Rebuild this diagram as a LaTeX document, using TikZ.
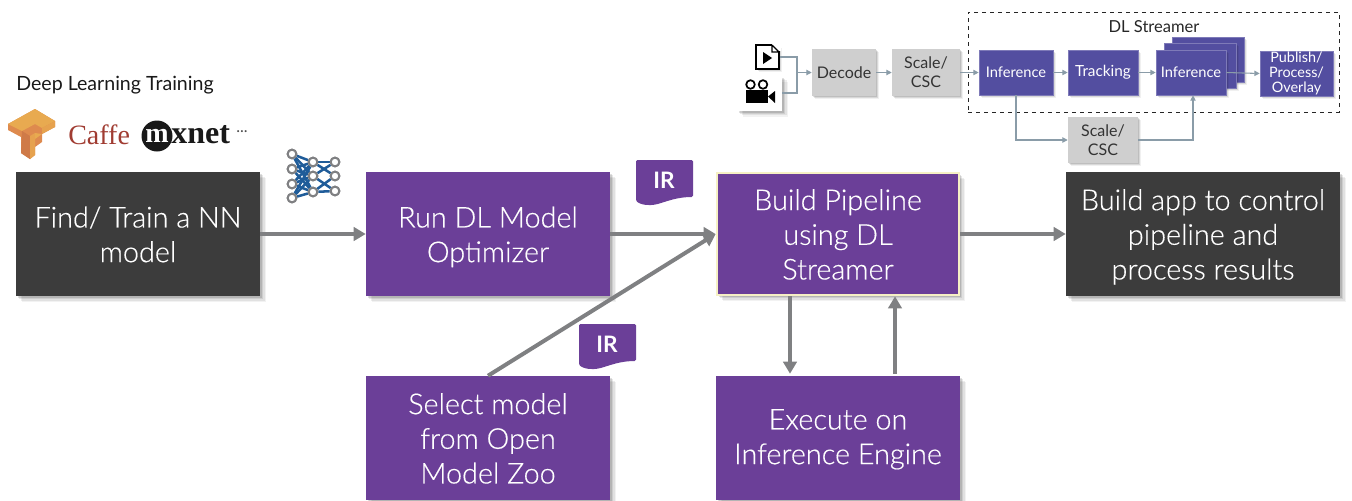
\documentclass[tikz,border=0pt]{standalone}
\usepackage{fontspec}
\setmainfont{Lato}
\newfontfamily\lightfont{Lato Light}[FakeBold=0.4]
\newfontfamily\serifcaffe{Liberation Serif}
\usetikzlibrary{shadows,arrows.meta,calc}
\newcommand{\boxtop}{\rule{0pt}{24pt}}
\newcommand{\boxbot}{\rule[-7.8pt]{0pt}{7.8pt}}
\definecolor{purpleA}{HTML}{6B3F98}
\definecolor{darkA}{HTML}{3C3C3C}
\definecolor{blueA}{HTML}{534EA0}
\definecolor{greyA}{HTML}{CFCFCF}
\definecolor{lineA}{HTML}{7F8082}
\definecolor{lineB}{HTML}{8A9CA8}
\definecolor{glow}{HTML}{F6F0C4}
\definecolor{nnblue}{HTML}{1F5C99}
\definecolor{tfA}{HTML}{E8AA50}
\definecolor{tfB}{HTML}{DE8A4E}
\definecolor{tfC}{HTML}{CF7A48}
\definecolor{tfD}{HTML}{E6A24E}
\tikzset{
  softshadow/.style={general shadow={fill=black,opacity=.05,shadow xshift=4.5pt,shadow yshift=-4.5pt},
                     general shadow={fill=black,opacity=.07,shadow xshift=3.5pt,shadow yshift=-3.5pt},
                     general shadow={fill=black,opacity=.09,shadow xshift=2.5pt,shadow yshift=-2.5pt},
                     general shadow={fill=black,opacity=.12,shadow xshift=1.5pt,shadow yshift=-1.5pt}},
  smallshadow/.style={general shadow={fill=black,opacity=.06,shadow xshift=2.2pt,shadow yshift=-2.2pt},
                     general shadow={fill=black,opacity=.10,shadow xshift=1.5pt,shadow yshift=-1.5pt},
                     general shadow={fill=black,opacity=.12,shadow xshift=.8pt,shadow yshift=-.8pt}},
  bigbox/.style={minimum width=244*.75pt,minimum height=124*.75pt,inner sep=0pt,align=center,text=white,font=\lightfont\fontsize{21.6}{26}\selectfont,softshadow},
  purplebox/.style={bigbox,fill=purpleA},
  darkbox/.style={bigbox,fill=darkA},
  greybox/.style={fill=greyA,inner sep=0pt,align=center,text=black!80,font=\fontsize{12}{14.4}\selectfont,smallshadow},
  bluebox/.style={fill=blueA,draw=blueA!75!white,line width=.5pt,inner sep=0pt,align=center,text=white,font=\fontsize{11}{13}\selectfont,smallshadow},
  mainarrow/.style={draw=lineA,line width=3pt,-{Triangle[length=9pt,width=10pt]}},
  thinarrow/.style={draw=lineB,line width=.8pt,-{Triangle[length=4pt,width=4pt]}},
  thinline/.style={draw=lineB,line width=.8pt},
  irflag/.style={fill=purpleA,rounded corners=1pt},
  irtext/.style={text=white,font=\fontsize{17}{20}\selectfont\bfseries},
  nnnode/.style={circle,draw=lineA,fill=white,line width=1.5pt,minimum size=6.5pt,inner sep=0pt},
  nnedge/.style={draw=nnblue,line width=1.9pt}
}
\begin{document}
\begin{tikzpicture}[x=.75pt,y=-.75pt]
\useasboundingbox (0,0) rectangle (1352,500);
% main boxes
\node[darkbox] (find) at (138,234) {\boxtop Find/ Train a NN\\model\boxbot};
\node[purplebox] (run) at (488,234) {\boxtop Run DL Model\\Optimizer\boxbot};
\node[purplebox,draw=glow,line width=2pt,minimum width=242*.75pt,minimum height=122*.75pt] (build) at (838,234) {\boxtop Build Pipeline\\using DL\\Streamer\boxbot};
\node[darkbox,minimum width=274*.75pt] (app) at (1203,234) {\boxtop Build app to control\\pipeline and\\process results\boxbot};
\node[purplebox] (select) at (488,438) {\boxtop Select model\\from Open\\Model Zoo\boxbot};
\node[purplebox] (exec) at (838,438) {\boxtop Execute on\\Inference Engine\rule[-10.8pt]{0pt}{10.8pt}};
% main connectors
\coordinate (dnx) at (790,0);
\coordinate (upx) at (895,0);
\draw[mainarrow] (find.east) -- (run.west);
\draw[mainarrow] (run.east) -- (build.west);
\draw[mainarrow] (select.north) -- (build.west);
\draw[mainarrow] (build.south -| dnx) -- ($(exec.north -| dnx)+(0,-2)$);
\draw[mainarrow] ($(exec.north -| upx)+(0,-2)$) -- (build.south -| upx);
\draw[mainarrow] (build.east) -- (app.west);
% IR flags
\path[irflag] (636,160) -- (693,160) -- (693,197)
  .. controls (672,197) and (660,205) .. (650,205) .. controls (644,205) and (640,204) .. (636,201) -- cycle;
\node[irtext] (ir1) at (664,180) {IR};
\path[irflag] (579,324) -- (636,324) -- (636,361)
  .. controls (615,361) and (603,369) .. (593,369) .. controls (587,369) and (583,368) .. (579,365) -- cycle;
\node[irtext] (ir2) at (607,344) {IR};
% training label and logos
\node[anchor=west,inner sep=0pt,font=\fontsize{14.7}{17}\selectfont,text=black!90] (dlt) at (16,85) {Deep Learning Training};
\fill[tfB] (35,109) -- (55,121) -- (55,127) -- (42,134) -- (42,142) -- (35,147) -- (35,155) -- (30,159) -- (21,153) -- (21,137) -- (8,130) -- (8,124) -- cycle;
\fill[tfA] (35,109) -- (55,121) -- (42,128) -- (35,124) -- (22,131) -- (8,124) -- cycle;
\fill[tfD] (55,121) -- (55,127) -- (42,134) -- (42,128) -- cycle;
\fill[tfC] (22,131) -- (30,136) -- (30,159) -- (21,153) -- cycle;
\fill[tfD] (30,136) -- (35,133) -- (35,155) -- (30,159) -- cycle;
\fill[tfA] (35,133) -- (42,134) -- (35,139) -- cycle;
\node[anchor=west,inner sep=0pt,text={rgb,255:red,160;green,60;blue,50},font=\serifcaffe\fontsize{21}{25}\selectfont] (caffe) at (68,135) {Caffe};
\node[circle,fill=black!90,minimum size=31*.75pt,inner sep=0pt,text=white,font=\serifcaffe\bfseries\fontsize{21}{23}\selectfont] (mxc) at (157,136) {m};
\node[anchor=west,inner sep=0pt,text=black!90,font=\serifcaffe\bfseries\fontsize{24}{26}\selectfont] (mxn) at (171,135) {xnet};
\node[anchor=west,inner sep=0pt,text=black!70,font=\fontsize{12}{14}\selectfont] (dots) at (236,132) {...};
% NN icon
\foreach \n/\x/\y in {a1/292/154,a2/292/169,a3/292/184,a4/292/198,b1/313/162,b2/313/176,b3/313/192,c1/335/162,c2/335/176,c3/335/191}
  \node[nnnode] (\n) at (\x,\y) {};
\foreach \p in {a1,a2,a3,a4}\foreach \q in {b1,b2,b3}
  \path[nnedge] (\p) -- (\q);
\foreach \p/\q in {b1/c1,b1/c2,b2/c1,b2/c3,b3/c2,b3/c3}
  \path[nnedge] (\p) -- (\q);
\foreach \n/\x/\y in {a1/292/154,a2/292/169,a3/292/184,a4/292/198,b1/313/162,b2/313/176,b3/313/192,c1/335/162,c2/335/176,c3/335/191}
  \node[nnnode] at (\x,\y) {};
% DL streamer group
\node[draw=black!85,dashed,line width=.6pt,minimum width=371*.75pt,minimum height=100*.75pt,inner sep=0pt] (group) at (1153.5,62) {};
\node[font=\fontsize{12.4}{14}\selectfont,text=black!85,inner sep=0pt] (gl) at (1154,27) {DL Streamer};
% sources
\node[fill=white,minimum width=45*.75pt,minimum height=35*.75pt,inner sep=0pt,softshadow] (cam) at (759.5,93) {};
\fill[black] (746,90) rectangle (768,103);
\fill[black] (768,96.5) -- (775,91) -- (775,103) -- cycle;
\draw[black,line width=1.3pt] (750.5,84.5) circle[radius=4.3];
\draw[black,line width=1.3pt] (763,84.5) circle[radius=4.3];
\node[fill=white,draw=black,line width=.9pt,minimum width=23*.75pt,minimum height=24*.75pt,inner sep=0pt,smallshadow] (file) at (767.5,57) {};
\fill[white] (772,44) rectangle (781,51);
\draw[black,line width=.9pt] (772,45) -- (779,52) (772,45) -- (772,52) -- (779,52);
\fill[black] (763,52) -- (772,58) -- (763,64) -- cycle;
% pipeline
\node[greybox,minimum width=64*.75pt,minimum height=47*.75pt] (dec) at (844,72.5) {Decode};
\node[greybox,minimum width=68*.75pt,minimum height=47*.75pt] (sc1) at (926,72.5) {Scale/\\CSC};
\node[bluebox,minimum width=74*.75pt,minimum height=45*.75pt] (inf1) at (1016,72.5) {Inference};
\node[bluebox,minimum width=70*.75pt,minimum height=45*.75pt,font=\fontsize{11.5}{13}\selectfont] (trk) at (1103,72.5) {Tracking};
\node[bluebox,minimum width=72*.75pt,minimum height=45*.75pt] (st3) at (1208,59.5) {};
\node[bluebox,minimum width=72*.75pt,minimum height=45*.75pt] (st2) at (1200,65.5) {};
\node[bluebox,minimum width=70*.75pt,minimum height=45*.75pt] (inf2) at (1191,72.5) {Inference};
\node[bluebox,minimum width=73*.75pt,minimum height=45*.75pt,font=\fontsize{10.8}{11.3}\selectfont] (pub) at (1296.5,73.5) {Publish/\\Process/\\Overlay};
\node[greybox,minimum width=70*.75pt,minimum height=46*.75pt] (sc2) at (1103,140) {Scale/\\CSC};
\coordinate (jn) at (797,72.5);
\coordinate (tapx) at (1016,0);
\coordinate (tapy) at (1193,0);
\draw[thinline] (file.east) -| (jn);
\draw[thinline] (cam.east) -| (jn);
\draw[thinarrow] (jn) -- (dec.west);
\draw[thinarrow] (dec.east) -- (sc1.west);
\draw[thinarrow] (sc1.east) -- (inf1.west);
\draw[thinarrow] (inf1.east) -- (trk.west);
\draw[thinarrow] (trk.east) -- (inf2.west);
\draw[thinarrow] (inf2.east) -- (pub.west);
\draw[thinarrow] (inf1.south -| tapx) |- (sc2.west);
\draw[thinarrow] (sc2.east) -| (inf2.south -| tapy);
\end{tikzpicture}
\end{document}
